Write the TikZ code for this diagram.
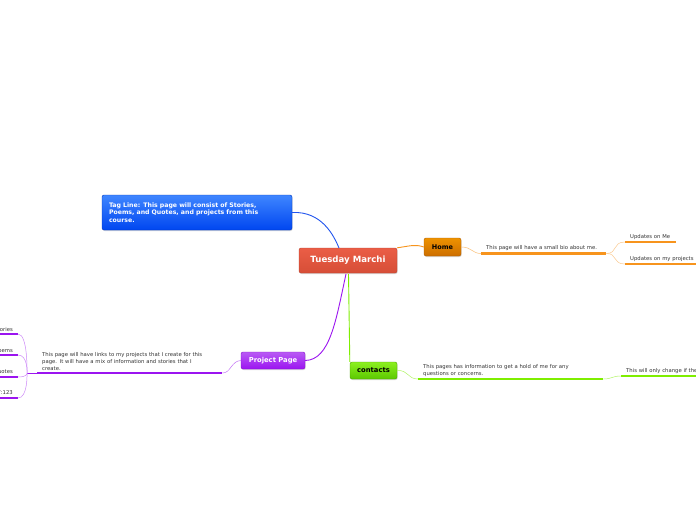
\documentclass[tikz,border=0pt]{standalone}
\usepackage{fontspec}
\setmainfont{DejaVu Sans}
\usetikzlibrary{shadows}
\definecolor{cred}{HTML}{E9553C}
\definecolor{corange}{HTML}{F7941D}
\definecolor{cpurple}{HTML}{9B14F0}
\definecolor{cgreen}{HTML}{7FEE00}
\definecolor{cblue}{HTML}{2255EE}
\definecolor{ctext}{HTML}{333333}
\definecolor{btop}{HTML}{3F86FF}
\definecolor{bbot}{HTML}{0046F0}
\definecolor{gtop}{HTML}{8CF020}
\definecolor{gbot}{HTML}{5CC800}
\definecolor{otop}{HTML}{EE9200}
\definecolor{obot}{HTML}{CC6E00}
\tikzset{
  x=1pt, y=-1pt,
  topicbox/.style={rounded corners=2pt, inner sep=0pt, font=\bfseries,
    drop shadow={opacity=0.3, shadow xshift=0.6pt, shadow yshift=-1pt}},
  subtext/.style={font=\fontsize{5.3}{6.8}\selectfont, text=ctext, align=left,
    inner xsep=5pt, inner ysep=2.5pt},
  ul/.style={line width=2.4pt},
  conn/.style={line width=0.9pt},
  thin conn/.style={line width=0.5pt}
}
\begin{document}
\begin{tikzpicture}
\useasboundingbox (0,0) rectangle (696,520);
\clip (0,0) rectangle (696,520);
\fill[white] (0,0) rectangle (696,520);

% central
\node[topicbox, top color=cred!95!white, bottom color=cred!92!black, draw=cred!80!black,
  minimum width=98pt, minimum height=25pt, text=white, font=\fontsize{8.6}{10}\selectfont\bfseries]
  (c) at (348,260.5) {Tuesday Marchi};

% tag line
\node[topicbox, top color=btop, bottom color=bbot, draw=bbot!80!black,
  minimum width=190pt, minimum height=35pt, text=white, text width=176pt, align=left,
  font=\fontsize{6.2}{7.4}\selectfont\bfseries]
  (tag) at (197,212.5) {Tag Line: This page will consist of Stories,\\Poems, and Quotes, and projects from this\\course.};

% home
\node[topicbox, top color=otop, bottom color=obot, draw=obot!85!black,
  minimum width=37pt, minimum height=18pt, text=black, font=\fontsize{6.5}{7.5}\selectfont\bfseries]
  (home) at (442.5,247) {Home};

% project page
\node[topicbox, top color=cpurple!70!white, bottom color=cpurple, draw=cpurple!85!black,
  minimum width=64pt, minimum height=17pt, text=white, font=\fontsize{6.8}{7.8}\selectfont\bfseries]
  (pp) at (273,360.5) {Project Page};

% contacts
\node[topicbox, top color=gtop, bottom color=gbot, draw=gbot!80!black,
  minimum width=47pt, minimum height=17pt, text=black, font=\fontsize{6.8}{7.8}\selectfont\bfseries]
  (ct) at (373.5,370.5) {contacts};

% main connectors
\coordinate (cbt) at (339,248);
\coordinate (cbp) at (346,274);
\coordinate (cbg) at (348.5,274);
\draw[conn, cblue] (tag.east) .. controls (322,211) and (334,236) .. (cbt);
\draw[conn, corange] (c.north east) .. controls (410,246) and (415,244) .. (home.west);
\draw[conn, cpurple] (cbp) .. controls (336,320) and (330,360) .. (pp.east);
\draw[conn, cgreen] (cbg) -- (ct.north west);

% Home subtopics
\node[subtext, anchor=south west, text width=115pt] (hs) at (481,253.5) {This page will have a small bio about me.};
\draw[ul, corange] (hs.south west) -- (hs.south east);
\draw[thin conn, corange!60!white] (home.east) .. controls (472,247) and (472,253.5) .. (hs.south west);

\node[subtext, anchor=south west, text width=41pt] (h1) at (625,242) {Updates on Me};
\draw[ul, corange] (h1.south west) -- (h1.south east);
\node[subtext, anchor=south west, text width=80pt] (h2) at (625,264) {Updates on my projects};
\draw[ul, corange] (h2.south west) -- (h2.south east);
\draw[thin conn, corange!50!white] (hs.south east) .. controls (618,253.5) and (612,242) .. (h1.south west);
\draw[thin conn, corange!50!white] (hs.south east) .. controls (618,253.5) and (612,264) .. (h2.south west);

% Project subtopics
\node[subtext, anchor=south west, text width=175pt] (ps) at (37,373) {This page will have links to my projects that I create for this\\page. It will have a mix of information and stories that I\\create.};
\draw[ul, cpurple] (ps.south west) -- (ps.south east);
\draw[thin conn, cpurple!60!white] (pp.west) .. controls (231,361) and (231,373) .. (ps.south east);
\coordinate (pj) at (27,373);
\draw[line width=1pt, cpurple] (ps.south west) -- (pj);

\node[subtext, anchor=south east, align=right] (p1) at (18,334) {Stories};
\node[subtext, anchor=south east, align=right] (p2) at (18,355) {Poems};
\node[subtext, anchor=south east, align=right] (p3) at (18,377) {Quotes};
\node[subtext, anchor=south east, align=right] (p4) at (18,398) {Quote 7:123};
\foreach \n in {p1,p2,p3,p4}{
  \draw[ul, cpurple] (\n.south west) -- (\n.south east);
  \draw[thin conn, cpurple!50!white] (pj) .. controls (27,373) and (28,0 |- \n.south east) .. (\n.south east);
}

% contacts subtopics
\node[subtext, anchor=south west, text width=175pt] (cs) at (418,379) {This pages has information to get a hold of me for any\\questions or concerns.};
\draw[ul, cgreen] (cs.south west) -- (cs.south east);
\draw[thin conn, cgreen!60!white] (ct.east) .. controls (409,370) and (407,379) .. (cs.south west);

\node[subtext, anchor=south west, text width=150pt] (c1) at (621,376) {This will only change if there is something new.};
\draw[ul, cgreen] (c1.south west) -- (c1.south east);
\draw[thin conn, cgreen!60!white] (cs.south east) .. controls (612,379) and (612,376) .. (c1.south west);
\end{tikzpicture}
\end{document}
